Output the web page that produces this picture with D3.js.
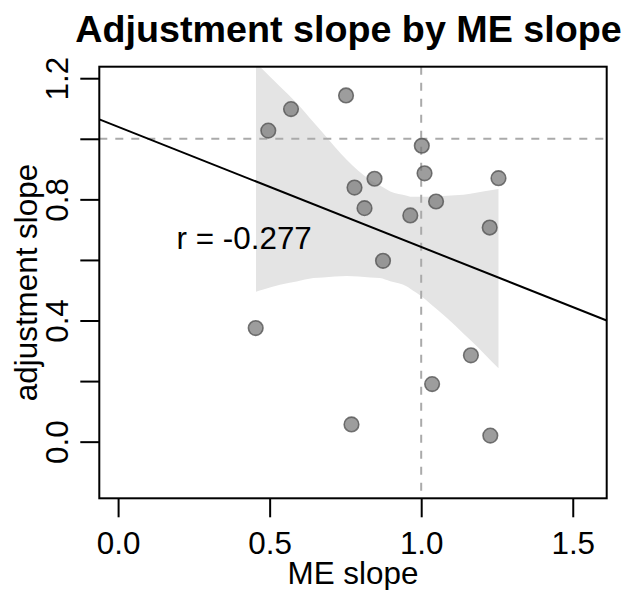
<!DOCTYPE html>
<html>
<head>
<meta charset="utf-8">
<script src="https://cdn.jsdelivr.net/npm/d3@7"></script>
<style>
  html, body { margin: 0; padding: 0; background: #fff; }
  svg { display: block; font-family: "Liberation Sans", Arial, Helvetica, sans-serif; }
</style>
</head>
<body>
<svg id="chart" width="633" height="590"></svg>
<script>
// ---- data ----
const meSlope = [0.4955, 0.5705, 0.752, 1.002, 1.011, 1.255, 0.846, 0.780, 0.813, 1.049, 0.964, 1.226, 0.874, 0.454, 1.164, 1.036, 0.770, 1.228];
const adjSlope = [1.027, 1.098, 1.143, 0.977, 0.886, 0.870, 0.868, 0.839, 0.771, 0.793, 0.747, 0.707, 0.597, 0.375, 0.285, 0.190, 0.057, 0.020];

// confidence band (upper and lower edges)
const bandUpperX = [0.455, 0.479, 0.589, 0.676, 0.755, 0.832, 0.898, 0.964, 1.030, 1.139, 1.255];
const bandUpperY = [1.25, 1.227, 1.118, 1.019, 0.930, 0.864, 0.826, 0.809, 0.809, 0.815, 0.834];
const bandLowerX = [0.455, 0.534, 0.644, 0.755, 0.864, 0.953, 1.002, 1.085, 1.162, 1.255];
const bandLowerY = [0.495, 0.518, 0.540, 0.547, 0.540, 0.512, 0.479, 0.408, 0.336, 0.242];

const xTicks = [0, 0.5, 1.0, 1.5];
const xTickLabels = ["0.0", "0.5", "1.0", "1.5"];
const yTicks = [0, 0.2, 0.4, 0.6, 0.8, 1.0, 1.2];
const yTickLabels = ["0.0", "", "0.4", "", "0.8", "", "1.2"];
const refX = 1.0, refY = 1.0;
const titleText = "Adjustment slope by ME slope";
const xLabel = "ME slope";
const yLabel = "adjustment slope";
const rLabel = "r = -0.277";

// ---- layout ----
const box = { left: 99.3, right: 606.7, top: 66.7, bottom: 498.3 };
const fs = 31.4;

const svg = d3.select("#chart");
const x = d3.scaleLinear().domain([-0.062, 1.612]).range([box.left, box.right]);
const y = d3.scaleLinear().domain([-0.187, 1.238]).range([box.bottom, box.top]);

svg.append("defs").append("clipPath").attr("id", "clip")
  .append("rect").attr("x", box.left).attr("y", box.top)
  .attr("width", box.right - box.left).attr("height", box.bottom - box.top);

const plot = svg.append("g").attr("clip-path", "url(#clip)");

// band polygon
const bandPts = bandUpperX.map((v, i) => [x(v), y(bandUpperY[i])])
  .concat(bandLowerX.map((v, i) => [x(v), y(bandLowerY[i])]).reverse());
const upperLine = d3.line().curve(d3.curveMonotoneX);
const upperPath = upperLine(bandUpperX.map((v, i) => [x(v), y(bandUpperY[i])]));
const lowerPath = upperLine(bandLowerX.map((v, i) => [x(v), y(bandLowerY[i])]).reverse().map(p => p));
// build closed shape via area
const area = d3.area().curve(d3.curveMonotoneX)
  .x(d => x(d.x)).y0(d => y(d.lo)).y1(d => y(d.hi));
// merge x grids: sample upper and lower with linear interpolation on a common grid of their own points
const allX = Array.from(new Set(bandUpperX.concat(bandLowerX))).sort((a, b) => a - b);
const interp = (xs, ys, v) => {
  for (let i = 0; i < xs.length - 1; i++) {
    if (v >= xs[i] && v <= xs[i + 1]) {
      const t = (v - xs[i]) / (xs[i + 1] - xs[i]);
      return ys[i] + t * (ys[i + 1] - ys[i]);
    }
  }
  return v < xs[0] ? ys[0] : ys[ys.length - 1];
};
const bandData = allX.map(v => ({ x: v, hi: interp(bandUpperX, bandUpperY, v), lo: interp(bandLowerX, bandLowerY, v) }));
plot.append("path").datum(bandData).attr("d", area).attr("fill", "#e4e4e4").attr("stroke", "none");

// reference dashed lines
plot.append("line").attr("x1", x(refX)).attr("x2", x(refX)).attr("y1", box.top).attr("y2", box.bottom)
  .attr("stroke", "#aaaaaa").attr("stroke-width", 2).attr("stroke-dasharray", "8,8");
plot.append("line").attr("x1", box.left).attr("x2", box.right).attr("y1", y(refY)).attr("y2", y(refY))
  .attr("stroke", "#aaaaaa").attr("stroke-width", 2).attr("stroke-dasharray", "8,8");

// regression line from data (least squares)
const mx = d3.mean(meSlope), my = d3.mean(adjSlope);
let sxy = 0, sxx = 0;
meSlope.forEach((v, i) => { sxy += (v - mx) * (adjSlope[i] - my); sxx += (v - mx) * (v - mx); });
const slope = sxy / sxx, intercept = my - slope * mx;
const [d0, d1] = x.domain();
plot.append("line")
  .attr("x1", x(d0)).attr("y1", y(intercept + slope * d0))
  .attr("x2", x(d1)).attr("y2", y(intercept + slope * d1))
  .attr("stroke", "#000").attr("stroke-width", 2);

// points
plot.selectAll("circle.pt").data(meSlope).enter().append("circle")
  .attr("class", "pt")
  .attr("cx", d => x(d)).attr("cy", (d, i) => y(adjSlope[i]))
  .attr("r", 7.3)
  .attr("fill", "#777777").attr("fill-opacity", 0.72)
  .attr("stroke", "#555555").attr("stroke-opacity", 0.8).attr("stroke-width", 1.6);

// box
svg.append("rect").attr("x", box.left).attr("y", box.top)
  .attr("width", box.right - box.left).attr("height", box.bottom - box.top)
  .attr("fill", "none").attr("stroke", "#000").attr("stroke-width", 2);

// x axis
const xAxis = d3.axisBottom(x).tickValues(xTicks).tickSize(19).tickPadding(0)
  .tickFormat((d, i) => xTickLabels[i]);
const gx = svg.append("g").attr("transform", `translate(0,${box.bottom})`).call(xAxis);
gx.select(".domain").remove();
gx.selectAll(".tick line").attr("stroke", "#000").attr("stroke-width", 2);
gx.selectAll(".tick text").attr("y", 55.5).attr("dy", null)
  .attr("font-size", fs).attr("fill", "#000").attr("font-family", "Liberation Sans, Arial, sans-serif");

// y axis
const yAxis = d3.axisLeft(y).tickValues(yTicks).tickSize(19).tickPadding(0)
  .tickFormat((d, i) => yTickLabels[i]);
const gy = svg.append("g").attr("transform", `translate(${box.left},0)`).call(yAxis);
gy.select(".domain").remove();
gy.selectAll(".tick line").attr("stroke", "#000").attr("stroke-width", 2);
gy.selectAll(".tick text")
  .attr("x", null).attr("dy", null)
  .attr("text-anchor", "middle")
  .attr("transform", `translate(${-31},0) rotate(-90)`)
  .attr("font-size", fs).attr("fill", "#000").attr("font-family", "Liberation Sans, Arial, sans-serif");

// title
svg.append("text").attr("x", 348.5).attr("y", 42.3).attr("text-anchor", "middle")
  .attr("font-size", 37.7).attr("font-weight", "bold").attr("fill", "#000").text(titleText);

// axis titles
svg.append("text").attr("x", (box.left + box.right) / 2).attr("y", 584).attr("text-anchor", "middle")
  .attr("font-size", fs).attr("fill", "#000").text(xLabel);
svg.append("text").attr("transform", `translate(37,${(box.top + box.bottom) / 2}) rotate(-90)`)
  .attr("text-anchor", "middle").attr("font-size", fs).attr("fill", "#000").text(yLabel);

// r annotation
svg.append("text").attr("x", x(0.416)).attr("y", y(0.635)).attr("text-anchor", "middle")
  .attr("font-size", fs).attr("fill", "#000").text(rLabel);
</script>
</body>
</html>
